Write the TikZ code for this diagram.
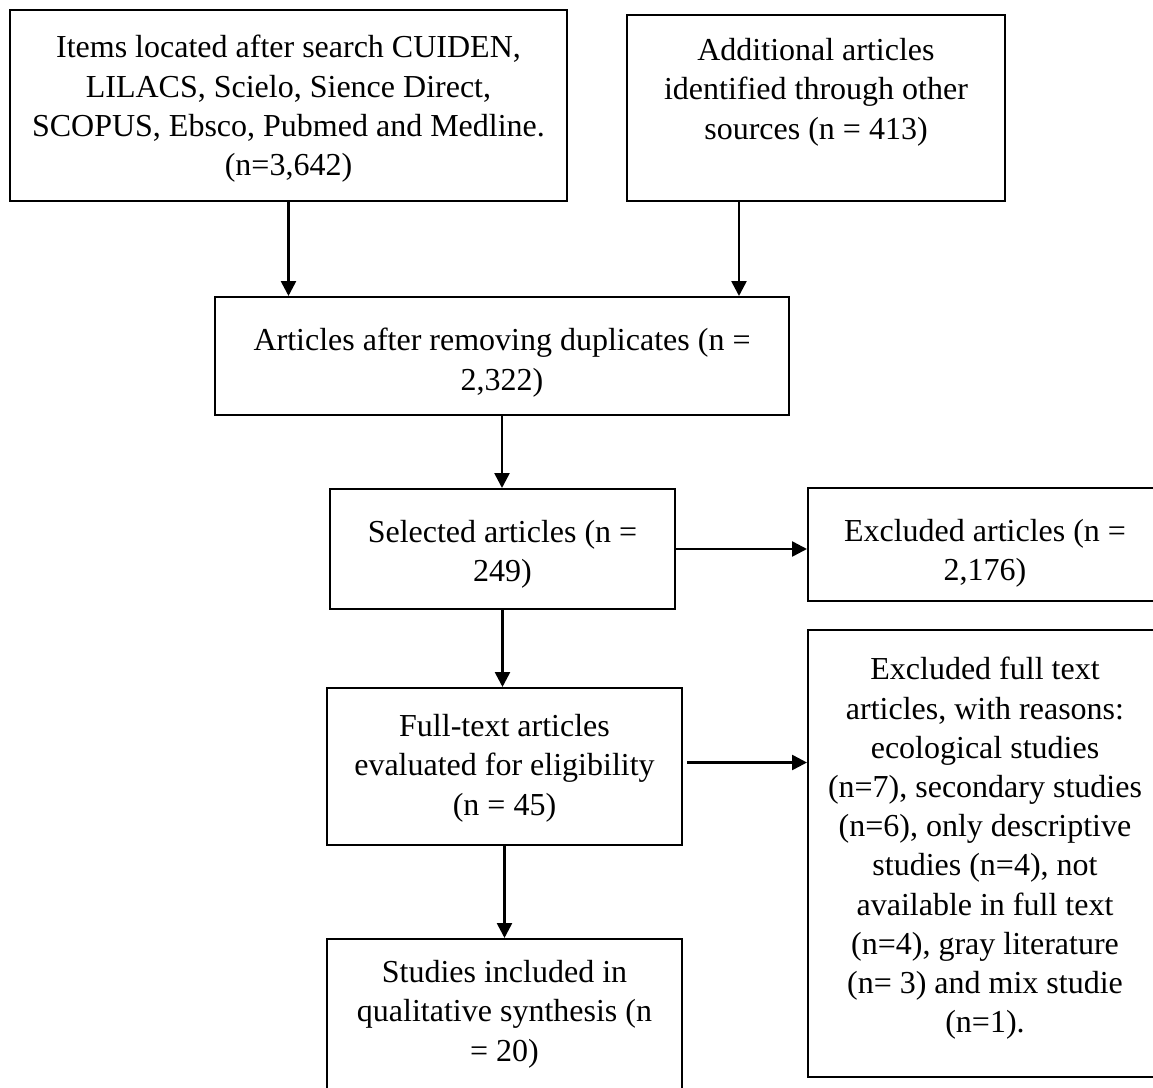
\documentclass[tikz,border=0pt]{standalone}
\usepackage{fontspec}
\setmainfont{Liberation Serif}
\usetikzlibrary{arrows.meta}
\usetikzlibrary{fit}

\begin{document}
\begin{tikzpicture}[x=0.5pt, y=-0.5pt,
		box/.style={draw, line width=1pt, inner sep=0pt},
		txt/.style={align=center, inner sep=0pt, anchor=north, font=\fontsize{16}{19.6}\selectfont},
		flow/.style={-{Triangle[length=7.5pt, width=7.5pt]}, line width=1.3pt}]
		\useasboundingbox (0,0) rectangle (1153,1088);
		\clip (0,0) rectangle (1153,1088);
		% boxes: name / left / top / right / bottom (pixels)
		\foreach \nm/\xa/\ya/\xb/\yb in {items/10/10/567/201, extra/627/15/1005/201, dup/215/297/789/415, sel/330/489/675/609, excl/808/488/1162/601, full/327/688/682/845, why/808/630/1162/1077, incl/327/939/682/1140} {
			\node[box, fit={(\xa,\ya) (\xb,\yb)}] (\nm) {};
		}
		% texts, top aligned in their boxes
		\node[txt] (items-t) at ([yshift=-13pt]items.north) {Items located after search CUIDEN,\\LILACS, Scielo, Sience Direct,\\SCOPUS, Ebsco, Pubmed and Medline.\\(n=3,642)};
		\node[txt] (extra-t) at ([yshift=-12pt]extra.north) {Additional articles\\identified through other\\sources (n = 413)};
		\node[txt] (dup-t) at ([yshift=-16pt]dup.north) {Articles after removing duplicates (n =\\2,322)};
		\node[txt] (sel-t) at ([yshift=-16pt]sel.north) {Selected articles (n =\\249)};
		\node[txt] (excl-t) at ([yshift=-16pt]excl.north) {Excluded articles (n =\\2,176)};
		\node[txt] (full-t) at ([yshift=-13.5pt]full.north) {Full-text articles\\evaluated for eligibility\\(n = 45)};
		\node[txt] (why-t) at ([yshift=-14pt]why.north) {Excluded full text\\articles, with reasons:\\ecological studies\\(n=7), secondary studies\\(n=6), only descriptive\\studies (n=4), not\\available in full text\\(n=4), gray literature\\(n= 3) and mix studie\\(n=1).};
		\node[txt] (incl-t) at ([yshift=-11pt]incl.north) {Studies included in\\qualitative synthesis (n\\= 20)};
		% connectors
		\draw[flow] (items.south) -- (items.south |- dup.north);
		\draw[flow] ([xshift=-38.5pt]extra.south) -- ([xshift=-38.5pt]extra.south |- dup.north);
		\draw[flow] (dup.south) -- (dup.south |- sel.north);
		\draw[flow] (sel.east) -- (sel.east -| excl.west);
		\draw[flow] (sel.south) -- (sel.south |- full.north);
		\draw[flow] ([shift={(2pt,2pt)}]full.east) -- ([yshift=2pt]full.east -| why.west);
		\draw[flow] (full.south) -- (full.south |- incl.north);
	\end{tikzpicture}
\end{document}
